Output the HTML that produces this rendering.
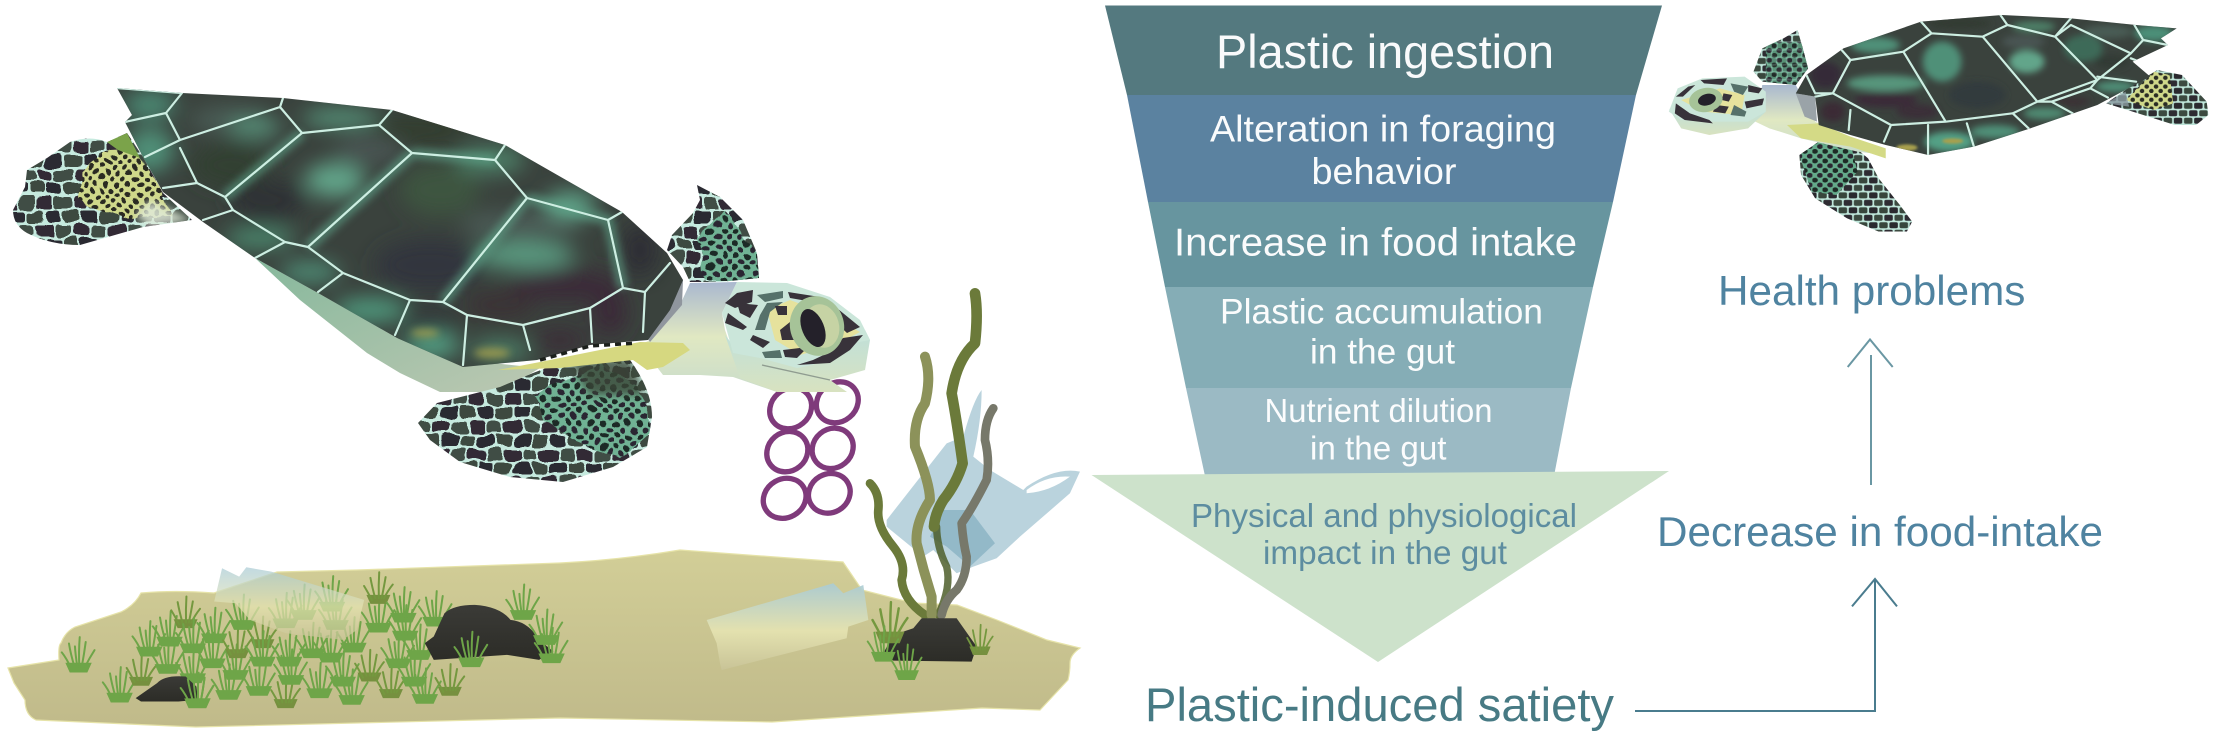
<!DOCTYPE html>
<html lang="en">
<head>
<meta charset="utf-8">
<title>Plastic-induced satiety in sea turtles</title>
<style>
html,body{margin:0;padding:0;background:#fff;width:2213px;height:735px;overflow:hidden}
svg{display:block}
text{font-family:"Liberation Sans",sans-serif}
.w{fill:#fff;opacity:.97}
.ln{fill:none;stroke:#cdeee2;stroke-width:2.2;vector-effect:non-scaling-stroke;stroke-linejoin:round;stroke-linecap:round}
.gl{fill:none;stroke:#5fa58a;stroke-width:11;vector-effect:non-scaling-stroke;opacity:.6}
.dk{fill:#38323a}
.gn{fill:#56716a}
</style>
</head>
<body>
<svg xmlns="http://www.w3.org/2000/svg" width="2213" height="735" viewBox="0 0 2213 735">
<defs>
  <filter id="b14" x="-60%" y="-60%" width="220%" height="220%"><feGaussianBlur stdDeviation="10"/></filter>
  <filter id="b4" x="-30%" y="-30%" width="160%" height="160%"><feGaussianBlur stdDeviation="4"/></filter>
  <filter id="wob" x="-5%" y="-5%" width="110%" height="110%"><feTurbulence type="fractalNoise" baseFrequency="0.045" numOctaves="2" seed="4"/><feDisplacementMap in="SourceGraphic" scale="11" xChannelSelector="R" yChannelSelector="G"/></filter>
  <linearGradient id="sand" x1="0" y1="0" x2="0" y2="1"><stop offset="0" stop-color="#d2ce97"/><stop offset="1" stop-color="#c0ba8a"/></linearGradient>
  <linearGradient id="neck" x1="0" y1="0" x2="0" y2="1"><stop offset="0" stop-color="#a9b8cf"/><stop offset=".5" stop-color="#e0e8c2"/><stop offset="1" stop-color="#c9dccb"/></linearGradient>
  <linearGradient id="hull" x1="0" y1="0" x2="1" y2="1"><stop offset="0" stop-color="#86b89c"/><stop offset="1" stop-color="#bcc8b2"/></linearGradient>
  <linearGradient id="rock" x1="0" y1="0" x2="0" y2="1"><stop offset="0" stop-color="#3b3b37"/><stop offset="1" stop-color="#2c2c27"/></linearGradient>
  <linearGradient id="bottle" x1="0" y1="0" x2="0" y2="1"><stop offset="0" stop-color="#a9cbd6"/><stop offset=".55" stop-color="#e6e4b2"/><stop offset="1" stop-color="#c9c498"/></linearGradient>
  <linearGradient id="jaw" x1="0" y1="0" x2="0" y2="1"><stop offset="0" stop-color="#bfe0da"/><stop offset="1" stop-color="#d8e2c0"/></linearGradient>

  <pattern id="coarse" patternUnits="userSpaceOnUse" width="36" height="28">
    <rect width="36" height="28" fill="#c6eadf"/>
    <rect x="1" y="1" width="16" height="11.5" rx="3" fill="#302c34"/>
    <rect x="19" y="1" width="16" height="11.5" rx="3" fill="#414d45"/>
    <rect x="-8" y="14.5" width="16" height="12" rx="3" fill="#3d4a40"/>
    <rect x="10" y="14.5" width="16" height="12" rx="3" fill="#2b2a30"/>
    <rect x="28" y="14.5" width="16" height="12" rx="3" fill="#3d4a40"/>
  </pattern>
  <pattern id="fine" patternUnits="userSpaceOnUse" width="12" height="12">
    <rect width="12" height="12" fill="#6fb294"/>
    <ellipse cx="3" cy="3" rx="3.4" ry="2.9" fill="#1d2a25"/>
    <ellipse cx="9" cy="9" rx="3.4" ry="2.9" fill="#2a2630"/>
  </pattern>
  <pattern id="finey" patternUnits="userSpaceOnUse" width="11" height="11">
    <rect width="11" height="11" fill="#cfd88a"/>
    <circle cx="3" cy="3" r="2.6" fill="#2a2c24"/>
    <circle cx="8.5" cy="8.5" r="2.6" fill="#2a2c24"/>
  </pattern>
  <pattern id="coarseS" patternUnits="userSpaceOnUse" width="36" height="28" patternTransform="scale(1.6)">
    <rect width="36" height="28" fill="#bfe6da"/>
    <rect x="1.5" y="1.5" width="15" height="11" rx="3" fill="#2e2c32"/>
    <rect x="19.5" y="1.5" width="15" height="11" rx="3" fill="#3c4a40"/>
    <rect x="-7.5" y="15.5" width="15" height="11" rx="3" fill="#38463c"/>
    <rect x="10.5" y="15.5" width="15" height="11" rx="3" fill="#2a292e"/>
    <rect x="28.5" y="15.5" width="15" height="11" rx="3" fill="#38463c"/>
  </pattern>
  <pattern id="fineS" patternUnits="userSpaceOnUse" width="12" height="12" patternTransform="scale(2.4)">
    <rect width="12" height="12" fill="#64aa8a"/>
    <ellipse cx="3" cy="3" rx="3.5" ry="3" fill="#1d2a25"/>
    <ellipse cx="9" cy="9" rx="3.5" ry="3" fill="#2a2630"/>
  </pattern>
  <pattern id="fineyS" patternUnits="userSpaceOnUse" width="11" height="11" patternTransform="scale(2.4)">
    <rect width="11" height="11" fill="#cfd88a"/>
    <circle cx="3" cy="3" r="2.7" fill="#2a2c24"/>
    <circle cx="8.5" cy="8.5" r="2.7" fill="#2a2c24"/>
  </pattern>

  <g id="t" transform="scale(1.12)">
    <path d="M-22 0L22 0L33 -26L-33 -26Z" fill="#6ea548"/>
    <g fill="none" stroke="#6ea548" stroke-width="5" stroke-linecap="round">
      <path d="M-18 -10Q-30 -38 -42 -54"/><path d="M-10 -15Q-20 -50 -24 -78"/><path d="M-3 -15Q-8 -50 -9 -70"/><path d="M2 -15Q0 -55 3 -95"/><path d="M8 -15Q14 -50 18 -82"/><path d="M16 -15Q28 -40 40 -60"/>
    </g>
  </g>
  <g id="d" transform="scale(1.12)">
    <path d="M-20 0L20 0L30 -24L-30 -24Z" fill="#76903f"/>
    <g fill="none" stroke="#74983f" stroke-width="5" stroke-linecap="round">
      <path d="M-16 -10Q-28 -34 -36 -48"/><path d="M-8 -15Q-16 -46 -20 -70"/><path d="M1 -15Q0 -50 2 -85"/><path d="M8 -15Q14 -46 18 -72"/><path d="M14 -15Q24 -36 36 -52"/>
    </g>
  </g>

  <clipPath id="bigShell"><path d="M117 88L182 93L283 98L392 110L505 145L622 212L667 253L683 280L670 310L648 340L590 345L537 360L463 367L397 338L318 293L255 258L203 222L163 192L143 157L125 122L132 115Z"/></clipPath>
  <clipPath id="rearF"><path d="M70 142Q90 135 107 142L127 133L143 157L163 193L192 220L143 227L80 245Q50 245 27 233Q13 225 13 210L25 187L27 170L47 158Z"/></clipPath>
  <clipPath id="lowF"><path d="M630 360Q652 390 652 417L647 447L613 467L563 482L510 477L460 462L430 440L418 423L437 403L500 387L533 373L567 360L600 355Z"/></clipPath>
  <clipPath id="upF"><path d="M697 185L720 197L743 220L757 253L759 278L720 282L690 282L683 267L667 250L672 235L693 213L700 200Z"/></clipPath>
  <clipPath id="smallShell"><path d="M1465 70L1350 60L1165 40L970 30L740 50L520 130L415 210L385 265L440 275L450 360L540 390L640 420L760 450L890 425L1050 370L1240 300L1390 215L1340 170L1440 120L1420 100Z"/></clipPath>
  <clipPath id="sRear"><path d="M1265 295L1340 240L1410 195L1480 210L1550 290L1555 330L1520 360L1460 360L1340 320Z"/></clipPath>
  <clipPath id="sUp"><path d="M390 75L405 130L420 190L385 240L290 230L265 200L290 130L350 100Z"/></clipPath>
  <clipPath id="sLow"><path d="M450 410L540 415L590 460L620 520L680 600L715 650L700 680L620 680L530 640L440 580L400 510L395 450Z"/></clipPath>
</defs>

<rect width="2213" height="735" fill="#fff"/>

<path fill="url(#sand)" stroke="#e6e3a8" stroke-width="1.2" d="M8 668L59 660Q58 645 61 643Q65 632 75 627L121 612Q135 605 141 593Q175 590 214 593L277 572L357 570L560 563Q620 560 680 550L843 562L862 590L913 603L957 605L997 620L1047 640L1080 648Q1070 655 1070 663Q1070 672 1068 680L1040 710L982 708L772 722L560 718L196 727L36 720Q25 715 25 700L14 683Z"/>

<g transform="translate(0,480) scale(.357,.333)">
  <use href="#t" x="220" y="578"/><use href="#t" x="335" y="668"/><use href="#d" x="395" y="618"/><use href="#t" x="418" y="530"/><use href="#t" x="470" y="582"/><use href="#t" x="475" y="500"/><use href="#d" x="520" y="445"/><use href="#t" x="540" y="520"/><use href="#t" x="540" y="610"/><use href="#t" x="553" y="685"/><use href="#t" x="600" y="490"/><use href="#t" x="595" y="565"/><use href="#t" x="640" y="660"/><use href="#t" x="660" y="600"/><use href="#d" x="665" y="535"/><use href="#t" x="680" y="450"/><use href="#d" x="735" y="505"/><use href="#t" x="735" y="560"/><use href="#t" x="725" y="648"/><use href="#d" x="800" y="685"/><use href="#t" x="815" y="615"/><use href="#t" x="810" y="560"/><use href="#t" x="800" y="445"/><use href="#t" x="850" y="420"/><use href="#t" x="875" y="535"/><use href="#t" x="895" y="655"/><use href="#t" x="930" y="395"/><use href="#t" x="940" y="450"/><use href="#t" x="925" y="548"/><use href="#t" x="960" y="620"/><use href="#t" x="985" y="675"/><use href="#t" x="990" y="518"/><use href="#d" x="1035" y="605"/><use href="#t" x="1060" y="458"/><use href="#d" x="1060" y="372"/><use href="#d" x="1095" y="655"/><use href="#t" x="1115" y="565"/><use href="#t" x="1130" y="428"/><use href="#t" x="1135" y="482"/><use href="#t" x="1160" y="620"/><use href="#t" x="1190" y="672"/><use href="#t" x="1175" y="540"/><use href="#t" x="1220" y="440"/><use href="#d" x="1260" y="648"/>
  <path fill="url(#rock)" d="M1190 490L1215 470L1245 400Q1270 375 1330 375Q1400 380 1430 420Q1480 425 1510 480L1550 515L1510 540L1420 525L1215 540Z"/>
  <path fill="url(#rock)" d="M380 655L440 610Q460 585 520 590L550 620L555 660L500 665L395 665Z"/>
  <use href="#t" x="553" y="685"/><use href="#t" x="1320" y="562"/><use href="#t" x="1465" y="420"/><use href="#t" x="1530" y="495"/><use href="#t" x="1545" y="550"/>
  <path fill="url(#bottle)" opacity=".72" d="M622 265L670 290L690 262L760 275L1020 360L1000 450L960 480L800 460L700 420L660 370L600 365Z"/>
</g>

<g transform="translate(680,280) scale(.3333)">
  <path fill="url(#bottle)" opacity=".9" d="M80 1020L460 910L490 940L550 915L565 1020L505 1040L500 1075L125 1170L120 1150L110 1090Z"/>
  <path fill="#8fb8c8" opacity=".62" fill-rule="evenodd" d="M905 330Q880 360 850 470L800 490L620 720L620 740L730 830L760 810L830 880L880 860L950 835L1020 770L1170 640L1200 575Q1130 560 1040 620L1030 630L930 570L880 530Q905 420 905 330ZM1040 640Q1110 635 1170 590Q1100 585 1040 630Z"/>
  <path fill="#79a8ba" opacity=".6" d="M790 690L870 690L945 790L870 860L800 800L750 770Z"/>
  <g fill="none" stroke-linecap="round" stroke-linejoin="round">
    <path stroke="#6b7a3a" stroke-width="26" d="M570 610Q600 640 595 690Q590 740 640 800Q680 850 665 900Q670 960 735 1005"/>
    <path stroke="#4e5e2a" opacity=".85" stroke-width="22" d="M770 740Q770 800 800 860Q815 920 775 1005"/>
    <path stroke="#6b7a3a" stroke-width="32" d="M885 40Q895 100 885 190Q830 240 815 340Q830 420 848 550Q830 610 790 660Q765 700 762 740"/>
    <path stroke="#8c925a" stroke-width="30" d="M735 230Q755 290 735 370Q700 420 705 500Q750 610 750 660Q705 730 710 790Q730 870 755 950L755 1005"/>
    <path stroke="#77786a" stroke-width="26" d="M940 385Q915 420 915 480Q930 540 920 600Q880 680 845 730Q850 790 860 830Q860 890 830 930Q795 960 785 1005"/>
  </g>
  <path fill="url(#rock)" d="M610 1120L640 1065L700 1045L725 1015L830 1015L890 1100L875 1145L640 1142Z"/>
  <g>
    <use href="#d" transform="translate(630,1090) scale(1.3)"/>
    <use href="#t" x="610" y="1145"/><use href="#t" x="680" y="1200"/><use href="#d" transform="translate(900,1125) scale(.95)"/>
  </g>
  <g fill="none" stroke="#7f3a7b" stroke-width="16">
    <ellipse cx="332" cy="385" rx="66" ry="58" transform="rotate(-40 332 385)"/>
    <ellipse cx="472" cy="367" rx="66" ry="58" transform="rotate(-40 472 367)"/>
    <ellipse cx="322" cy="515" rx="64" ry="58" transform="rotate(-40 322 515)"/>
    <ellipse cx="458" cy="505" rx="64" ry="58" transform="rotate(-40 458 505)"/>
    <ellipse cx="314" cy="655" rx="66" ry="58" transform="rotate(-30 314 655)"/>
    <ellipse cx="448" cy="640" rx="64" ry="58" transform="rotate(-30 448 640)"/>
  </g>
</g>

<!-- LARGE TURTLE (real pixel coordinates) -->
<g>
  <g clip-path="url(#rearF)">
    <rect x="0" y="125" width="200" height="125" fill="url(#coarse)" filter="url(#wob)"/>
    <path fill="url(#finey)" filter="url(#wob)" d="M80 172L112 150L135 148L155 180L172 215L120 220L78 200Z"/>
    <path fill="#7ba34a" d="M107 142L127 133L140 158L118 150Z"/>
    <path fill="#dfe9d8" opacity=".85" filter="url(#b4)" d="M150 200L192 220L150 228L135 215Z"/>
  </g>
  <path fill="url(#hull)" d="M255 258L300 300L367 353L400 373L440 392L500 392L540 368L463 360L397 338L318 293Z"/>
  <g clip-path="url(#lowF)">
    <rect x="410" y="345" width="250" height="145" fill="url(#coarse)" filter="url(#wob)"/>
    <path fill="url(#fine)" filter="url(#wob)" d="M535 395L600 365L640 385L652 430L620 458L575 440L545 420Z"/>
    <path fill="#3a4638" opacity=".8" filter="url(#b4)" d="M567 360L630 358L645 395L590 395Z"/>
  </g>
  <path fill="url(#neck)" d="M690 283L737 282L722 313L725 330L733 353L760 380L777 392L733 377L700 375L663 375L640 345L650 340L680 305Z"/>
  <path fill="#90969e" d="M645 292L670 263L683 280L682 305L650 342L643 332Z"/>
  <path fill="#d6d880" d="M498 370L540 362L640 342L683 343L690 350L663 367L647 370L633 360L560 368Z"/>

  <g clip-path="url(#bigShell)">
    <rect x="100" y="80" width="600" height="300" fill="#3a423d"/>
    <g filter="url(#b14)">
      <ellipse cx="150" cy="105" rx="26" ry="14" fill="#4c8a74"/>
      <ellipse cx="150" cy="150" rx="24" ry="22" fill="#4f9078"/>
      <ellipse cx="230" cy="120" rx="40" ry="14" fill="#4a5c54"/>
      <ellipse cx="255" cy="128" rx="26" ry="8" fill="#5a9a80"/>
      <ellipse cx="340" cy="118" rx="38" ry="9" fill="#56957c"/>
      <ellipse cx="420" cy="130" rx="50" ry="14" fill="#333c2e"/>
      <ellipse cx="490" cy="160" rx="35" ry="14" fill="#4d8068"/>
      <ellipse cx="230" cy="165" rx="38" ry="22" fill="#333f30"/>
      <ellipse cx="268" cy="200" rx="38" ry="20" fill="#2f3336"/>
      <ellipse cx="335" cy="180" rx="30" ry="17" fill="#62a58a"/>
      <ellipse cx="370" cy="150" rx="35" ry="14" fill="#4a5452"/>
      <ellipse cx="440" cy="190" rx="40" ry="26" fill="#3d5440"/>
      <ellipse cx="430" cy="265" rx="55" ry="26" fill="#33363c"/>
      <ellipse cx="520" cy="225" rx="60" ry="14" fill="#4c5c56"/>
      <ellipse cx="525" cy="255" rx="50" ry="14" fill="#5a9a80"/>
      <ellipse cx="570" cy="205" rx="26" ry="14" fill="#5fa086"/>
      <ellipse cx="565" cy="285" rx="55" ry="16" fill="#3b2c38"/>
      <ellipse cx="500" cy="305" rx="35" ry="14" fill="#3a3336"/>
      <ellipse cx="610" cy="312" rx="18" ry="24" fill="#3a2b38"/>
      <ellipse cx="560" cy="340" rx="26" ry="12" fill="#3a2f38"/>
      <ellipse cx="640" cy="250" rx="18" ry="26" fill="#2f2e34"/>
      <ellipse cx="260" cy="238" rx="35" ry="10" fill="#4c8a70"/>
      <ellipse cx="310" cy="272" rx="30" ry="10" fill="#4f9078"/>
      <ellipse cx="370" cy="310" rx="36" ry="12" fill="#4f9a7e"/>
      <ellipse cx="432" cy="345" rx="28" ry="12" fill="#55a487"/>
      <ellipse cx="430" cy="320" rx="28" ry="10" fill="#30383a"/>
      <ellipse cx="500" cy="350" rx="30" ry="9" fill="#4f8a70"/>
    </g>
    <g filter="url(#b4)" opacity=".8">
      <ellipse cx="425" cy="333" rx="14" ry="4" fill="#a8a04e"/>
      <ellipse cx="492" cy="353" rx="18" ry="5" fill="#a8a04e"/>
    </g>
    <path class="gl" filter="url(#b4)" d="M225 197L302 133M308 247L412 153M412 153L495 160M527 198L443 302M527 198L608 220L623 288"/>
    <path class="ln" d="M117 88L182 93L166 113L180 140L145 157M166 113L125 122M180 140L280 107L283 98M280 107L302 133L225 197M180 148L197 183L225 197M163 188L197 183M225 197L233 210L203 220M233 210L285 242L255 258M285 242L308 247L343 273L318 292M343 273L410 300L395 335M410 300L443 302L467 315L463 365M467 315L523 325L530 350M523 325L590 308L592 342M590 308L623 288L645 292L643 332M623 288L608 220L622 212M608 220L527 198L443 302M302 133L379 125L392 110M379 125L412 153L308 247M412 153L495 160L527 198M495 160L505 145M645 292L670 263"/>
  </g>
  <path fill="none" stroke="#1c201c" stroke-width="3.5" stroke-dasharray="6 5" d="M540 360L590 346L637 343"/>

  <g clip-path="url(#upF)">
    <rect x="660" y="180" width="105" height="105" fill="url(#coarse)" filter="url(#wob)"/>
    <path fill="url(#fine)" filter="url(#wob)" d="M700 235L725 210L757 253L759 280L705 280Z"/>
  </g>

  <path fill="url(#jaw)" d="M733 345L790 360L865 330L870 340L865 370L830 380L847 392L777 392L740 378L725 335Z"/>
  <g>
    <path fill="#cbe6da" d="M722 313L737 282L787 283L830 297L860 320L870 340L843 345L813 365L797 368L760 358L733 353Z"/>
    <path fill="#e6e29d" d="M767 310L790 300L830 315L860 332L835 345L800 355L775 340Z"/>
    <path class="dk" d="M737 293L753 290L752 302L735 308L725 303Z"/>
    <path class="gn" d="M757 295L783 291L783 298L765 302Z"/>
    <path class="dk" d="M788 292L820 297L813 302L790 298Z"/>
    <path class="dk" d="M827 300L860 327L847 333L830 317L820 307Z"/>
    <path class="dk" d="M728 313L747 327L743 330L725 323Z"/>
    <path class="dk" d="M737 303L758 305L750 318L740 313Z"/>
    <path class="gn" d="M767 303L783 302L770 312L765 330L755 330L760 315Z"/>
    <path class="dk" d="M775 306L787 306L787 315L778 315Z"/>
    <path class="dk" d="M790 322L797 327L795 340L782 340L780 330Z"/>
    <path class="dk" d="M753 335L770 342L763 348L750 340Z"/>
    <path class="gn" d="M762 352L780 350L782 358L765 358Z"/>
    <path class="dk" d="M783 350L808 347L797 358L785 357Z"/>
    <path class="dk" d="M797 365L813 360L830 352L843 338L863 335L850 350L830 363Z"/>
    <ellipse cx="817" cy="326" rx="27" ry="30" fill="#a6c398" transform="rotate(-15 817 326)"/>
    <ellipse cx="822" cy="326" rx="17" ry="22" fill="#c6d3a4" transform="rotate(-15 822 326)"/>
    <ellipse cx="813" cy="328" rx="11" ry="20" fill="#24212a" transform="rotate(-22 813 328)"/>
    <path fill="none" stroke="#8f9c90" stroke-width="1.4" d="M762 365L830 380"/>
  </g>
</g>

<!-- FUNNEL -->
<g>
  <polygon fill="#54797f" points="1105,5.5 1662,5.5 1636,95 1127,95"/>
  <polygon fill="#5b82a0" points="1127,95 1636,95 1613,202 1148,202"/>
  <polygon fill="#67959f" points="1148,202 1613,202 1593,287 1165,287"/>
  <polygon fill="#85adb6" points="1165,287 1593,287 1571,388 1186,388"/>
  <polygon fill="#9bbac4" points="1186,388 1571,388 1554,476 1205,476"/>
  <polygon fill="#cde2cb" points="1091.5,475 1669,471 1378,662"/>
</g>

<g text-anchor="start">
  <text class="w" x="1216" y="68" font-size="47" textLength="338" lengthAdjust="spacingAndGlyphs">Plastic ingestion</text>
  <text class="w" x="1210" y="141.5" font-size="37" textLength="346" lengthAdjust="spacingAndGlyphs">Alteration in foraging</text>
  <text class="w" x="1311.5" y="184" font-size="37" textLength="145" lengthAdjust="spacingAndGlyphs">behavior</text>
  <text class="w" x="1174" y="255.5" font-size="39" textLength="403" lengthAdjust="spacingAndGlyphs">Increase in food intake</text>
  <text class="w" x="1220" y="323.5" font-size="35" textLength="323" lengthAdjust="spacingAndGlyphs">Plastic accumulation</text>
  <text class="w" x="1310" y="363.5" font-size="35" textLength="145" lengthAdjust="spacingAndGlyphs">in the gut</text>
  <text class="w" x="1264.5" y="422" font-size="33" textLength="228" lengthAdjust="spacingAndGlyphs">Nutrient dilution</text>
  <text class="w" x="1310" y="459.5" font-size="33" textLength="136.5" lengthAdjust="spacingAndGlyphs">in the gut</text>
  <text fill="#5d8da0" x="1191" y="527" font-size="33" textLength="386" lengthAdjust="spacingAndGlyphs">Physical and physiological</text>
  <text fill="#5d8da0" x="1263" y="564" font-size="33" textLength="244" lengthAdjust="spacingAndGlyphs">impact in the gut</text>
  <text fill="#477a84" x="1145" y="721" font-size="47" textLength="469" lengthAdjust="spacingAndGlyphs">Plastic-induced satiety</text>
  <text fill="#4f83a0" x="1718" y="305" font-size="42" textLength="307.4" lengthAdjust="spacingAndGlyphs">Health problems</text>
  <text fill="#4f83a0" x="1657" y="546" font-size="42" textLength="446" lengthAdjust="spacingAndGlyphs">Decrease in food-intake</text>
</g>

<g fill="none" stroke-width="2">
  <path stroke="#6a97a3" d="M1871 355V485M1847.7 367L1870 339.5L1892.7 367"/>
  <path stroke="#4a7c8e" d="M1635 711H1875V579M1852 606.4L1875 579L1897 606.4"/>
</g>

<!-- SMALL TURTLE -->
<g transform="translate(1660,5) scale(0.3527,0.3333)">
  <g clip-path="url(#sRear)">
    <rect x="1250" y="180" width="320" height="190" fill="url(#coarseS)"/>
    <path fill="url(#fineyS)" d="M1320 285L1400 200L1445 210L1455 295L1400 315Z"/>
    <path fill="#8a9aa0" opacity=".8" d="M1265 295L1320 260L1330 305Z"/>
  </g>
  <g clip-path="url(#sLow)">
    <rect x="380" y="400" width="350" height="290" fill="url(#coarseS)"/>
    <path fill="url(#fineS)" d="M395 450L450 410L540 415L560 500L500 570L430 560Z"/>
  </g>
  <path fill="url(#neck)" d="M290 240L385 240L440 350L640 450L560 440L400 400L310 370L270 350Z"/>
  <path fill="#d4da86" d="M360 360L450 355L540 395L640 430L640 460L540 425L400 400Z"/>
  <path fill="#9aa3a8" d="M385 265L440 275L445 350L410 335Z"/>
  <g clip-path="url(#smallShell)">
    <rect x="380" y="20" width="1100" height="440" fill="#3a423d"/>
    <g filter="url(#b14)">
      <ellipse cx="610" cy="120" rx="70" ry="24" fill="#4f9078"/>
      <ellipse cx="850" cy="55" rx="90" ry="16" fill="#333b30"/>
      <ellipse cx="1060" cy="65" rx="60" ry="16" fill="#4d8068"/>
      <ellipse cx="640" cy="235" rx="110" ry="24" fill="#56957c"/>
      <ellipse cx="640" cy="285" rx="90" ry="22" fill="#3b2c38"/>
      <ellipse cx="470" cy="210" rx="45" ry="40" fill="#362c38"/>
      <ellipse cx="490" cy="320" rx="35" ry="30" fill="#3a2c36"/>
      <ellipse cx="800" cy="170" rx="55" ry="60" fill="#4f9078"/>
      <ellipse cx="730" cy="320" rx="60" ry="22" fill="#3a2e38"/>
      <ellipse cx="900" cy="270" rx="80" ry="40" fill="#333b3c"/>
      <ellipse cx="1040" cy="170" rx="50" ry="34" fill="#62a58a"/>
      <ellipse cx="1030" cy="110" rx="60" ry="20" fill="#4a5452"/>
      <ellipse cx="1200" cy="130" rx="55" ry="40" fill="#3e6a58"/>
      <ellipse cx="1280" cy="170" rx="50" ry="20" fill="#333b34"/>
      <ellipse cx="1270" cy="80" rx="70" ry="20" fill="#4a5c54"/>
      <ellipse cx="1400" cy="85" rx="55" ry="24" fill="#4c8f78"/>
      <ellipse cx="820" cy="410" rx="70" ry="30" fill="#52a085"/>
      <ellipse cx="950" cy="380" rx="70" ry="20" fill="#4f9078"/>
      <ellipse cx="1090" cy="325" rx="60" ry="18" fill="#4f8a72"/>
      <ellipse cx="1170" cy="290" rx="50" ry="16" fill="#3a3034"/>
      <ellipse cx="1290" cy="245" rx="55" ry="16" fill="#4f9078"/>
    </g>
    <ellipse cx="700" cy="428" rx="30" ry="10" fill="#a8a04e" filter="url(#b4)"/>
    <ellipse cx="830" cy="408" rx="30" ry="8" fill="#a8a04e" filter="url(#b4)"/>
    <path class="ln" d="M740 50L770 85L690 140L540 165L515 135M965 30L985 60L915 95L770 85M985 60L1120 95L1165 40M1120 95L1165 60L1335 145L1370 105L1345 60M1370 105L1440 120M1120 95L1240 225L1335 145M915 95L1070 290L1240 225L1220 250L1110 290L1070 290M690 140L810 350L1000 325L1070 290M540 165L490 265L655 360L810 350M490 265L440 275M540 315L535 375M655 360L635 410M760 360L760 450M870 355L890 425M1000 325L1045 370M1110 290L1170 325M1220 250L1270 278M1240 215L1350 230M1335 160L1395 185M415 210L440 265L490 265"/>
  </g>
  <g clip-path="url(#sUp)">
    <rect x="255" y="70" width="175" height="175" fill="url(#coarseS)"/>
    <rect x="300" y="110" width="130" height="135" fill="url(#fineS)" opacity=".75"/>
  </g>
  <path fill="url(#jaw)" d="M25 310L60 345L140 345L250 330L300 320L250 370L140 390L60 370Z"/>
  <g>
    <path fill="#cbe6da" d="M25 320L50 250L120 220L240 215L300 260L300 320L250 350L140 350L60 345Z"/>
    <path fill="#e6e29d" d="M60 285L170 250L240 270L230 330L120 320Z"/>
    <path class="dk" d="M45 295L85 325L140 345L150 355L70 345L42 325Z"/>
    <path class="dk" d="M45 275L80 245L100 240L65 275Z"/>
    <path class="dk" d="M115 225L190 220L180 240L125 235Z"/>
    <path class="dk" d="M250 240L290 250L280 265L250 260Z"/>
    <path class="dk" d="M180 265L205 270L195 290L175 285Z"/>
    <path class="dk" d="M240 290L295 280L290 300L245 310Z"/>
    <path class="dk" d="M160 300L195 305L185 325L150 320Z"/>
    <path class="gn" d="M200 235L250 245L235 270L210 260Z"/>
    <path class="gn" d="M210 300L245 320L240 335L200 330Z"/>
    <ellipse cx="130" cy="285" rx="48" ry="36" fill="#a6c398" transform="rotate(-12 130 285)"/>
    <ellipse cx="133" cy="284" rx="26" ry="17" fill="#24212a" transform="rotate(-18 133 284)"/>
  </g>
</g>
</svg>
</body>
</html>
